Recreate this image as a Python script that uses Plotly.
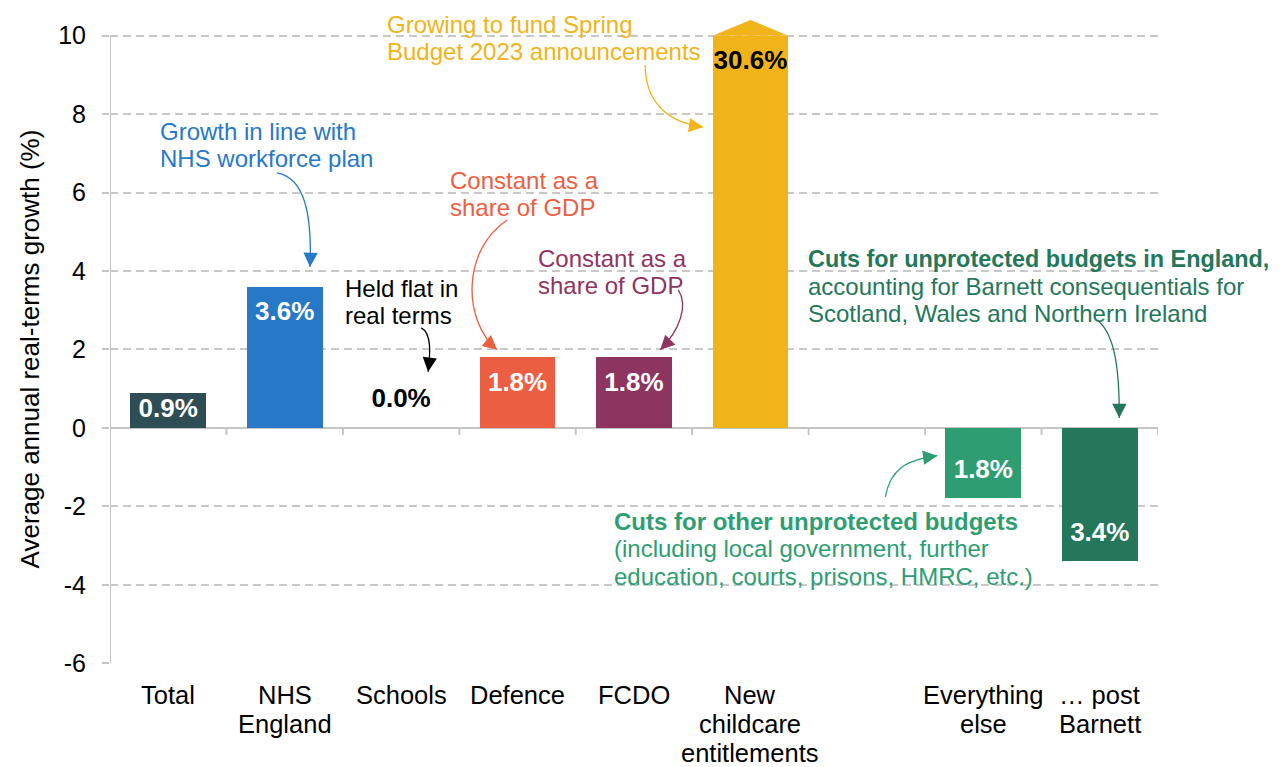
import plotly.graph_objects as go

categories = ["Total", "NHS<br>England", "Schools", "Defence", "FCDO",
              "New<br>childcare<br>entitlements", "", "Everything<br>else", "… post<br>Barnett"]
growth = [0.9, 3.6, 0.0, 1.8, 1.8, 30.6, None, -1.8, -3.4]
bar_colours = ["#2E4D55", "#2878C8", "#2878C8", "#EB5E42", "#8E3461",
               "#F0B41A", "#FFFFFF", "#2E9E72", "#24775A"]
label_colours = ["white", "white", "black", "white", "white", "black", "white", "white", "white"]
y_ticks = [-6, -4, -2, 0, 2, 4, 6, 8, 10]
y_cap = 10

FONT = "Arial, Liberation Sans, sans-serif"
W, H = 1286, 767
ML, MR, MT, MB = 110, 128, 18, 103
Y_RANGE = [-6.02, 10.45]
BAR_W = 0.65

sx = (W - ML - MR) / len(categories)            # px per category
sy = (H - MT - MB) / (Y_RANGE[1] - Y_RANGE[0])  # px per percentage point


def paper_y(v):
    return (v - Y_RANGE[0]) / (Y_RANGE[1] - Y_RANGE[0])


xs = list(range(len(categories)))
plotted = [None if v is None else min(v, y_cap) for v in growth]
labels = ["" if v is None else f"{abs(v):.1f}%" for v in growth]

# labels sit ~27px in from the end of the bar (centred on short bars, above a zero bar)
inset = 27 / sy
label_y = []
for v in plotted:
    if v is None:
        label_y.append(None)
    elif v == 0:
        label_y.append(inset)
    else:
        s = 1 if v > 0 else -1
        label_y.append(v - s * min(inset, abs(v) / 2))

fig = go.Figure()
fig.add_trace(go.Bar(
    x=xs, y=plotted, width=BAR_W,
    marker=dict(color=bar_colours, line=dict(width=0)),
    hoverinfo="skip",
))
fig.add_trace(go.Scatter(
    x=xs, y=label_y, mode="text", text=labels,
    textfont=dict(family=FONT, size=26, color=label_colours, weight="bold"),
    cliponaxis=False, hoverinfo="skip",
))

shapes = []
annotations = []

# arrow tip above the clipped childcare bar
i = 5
shapes.append(dict(type="path", xref="x", yref="y", line=dict(width=0), fillcolor=bar_colours[i],
                   path=f"M {i - BAR_W / 2},{y_cap} L {i},{y_cap + 0.4} L {i + BAR_W / 2},{y_cap} Z"))

# y axis line and category ticks on the zero line
shapes.append(dict(type="line", xref="x", yref="y", x0=-0.5, x1=-0.5, y0=-6, y1=10,
                   line=dict(color="#C4C4C4", width=2)))
for k in range(1, len(categories) + 1):
    shapes.append(dict(type="line", xref="x", yref="y", x0=k - 0.5, x1=k - 0.5, y0=0, y1=-7 / sy,
                       line=dict(color="#C4C4C4", width=2)))

# category labels (drawn as text so the line spacing can match)
cat_step = 29 / sy
for x, cat in zip(xs, categories):
    for j, line in enumerate(cat.split("<br>")):
        if line:
            annotations.append(dict(text=line, x=x, y=paper_y(-6.82 - j * cat_step),
                                    xref="x", yref="paper",
                                    xanchor="center", yanchor="middle", showarrow=False,
                                    font=dict(family=FONT, size=25.5, color="black")))

# y title
annotations.append(dict(text="Average annual real-terms growth (%)", textangle=-90,
                        x=-80 / (W - ML - MR), y=paper_y(2), xref="paper", yref="paper",
                        showarrow=False, xanchor="center", yanchor="middle",
                        font=dict(family=FONT, size=26, color="black")))

notes = [
    (["Growing to fund Spring", "Budget 2023 announcements"], "#F0B41A", 1.876, 10.29,
     [(4.096, 9.25), (4.096, 8.36), (4.268, 7.80), (4.594, 7.67)]),
    (["Growth in line with", "NHS workforce plan"], "#2878C8", -0.071, 7.567,
     [(0.935, 6.50), (1.175, 6.37), (1.235, 5.43), (1.218, 4.10)]),
    (["Held flat in", "real terms"], "#000000", 1.518, 3.554,
     [(2.172, 2.55), (2.266, 2.42), (2.249, 1.86), (2.232, 1.43)]),
    (["Constant as a", "share of GDP"], "#EB5E42", 2.420, 6.318,
     [(2.911, 5.30), (2.524, 4.54), (2.524, 2.75), (2.825, 1.99)]),
    (["Constant as a", "share of GDP"], "#8E3461", 3.176, 4.331,
     [(4.380, 3.52), (4.466, 3.13), (4.397, 2.50), (4.225, 1.99)]),
    (["<b>Cuts for unprotected budgets in England,</b>",
      "accounting for Barnett consequentials for",
      "Scotland, Wales and Northern Ireland"], "#24775A", 5.494, 4.318,
     [(7.979, 2.75), (8.134, 2.37), (8.168, 1.48), (8.168, 0.25)]),
    (["<b>Cuts for other unprotected budgets</b>",
      "(including local government, further",
      "education, courts, prisons, HMRC, etc.)"], "#2E9E72", 3.828, -2.382,
     [(6.158, -1.76), (6.201, -1.07), (6.330, -0.82), (6.605, -0.71)]),
]

note_step = 27.5 / sy
for lines, col, tx, ty, pts in notes:
    for j, line in enumerate(lines):
        size = 23.4 if "England," in line else 24
        annotations.append(dict(text=line, x=tx, y=ty - j * note_step, xref="x", yref="y",
                                xanchor="left", yanchor="middle", align="left", showarrow=False,
                                xshift=-2, font=dict(family=FONT, size=size, color=col)))
    (x0, y0), (x1, y1), (x2, y2), (x3, y3) = pts
    shapes.append(dict(type="path", xref="x", yref="y", line=dict(color=col, width=1.3),
                       path=f"M {x0},{y0} C {x1},{y1} {x2},{y2} {x3},{y3}"))
    dx, dy = (x2 - x3) * sx, -(y2 - y3) * sy
    n = (dx * dx + dy * dy) ** 0.5
    annotations.append(dict(x=x3, y=y3, xref="x", yref="y", text="", showarrow=True,
                            ax=dx / n * 12, ay=dy / n * 12, arrowhead=2, arrowsize=2.2,
                            arrowwidth=1.3, arrowcolor=col, standoff=0))

fig.update_layout(
    width=W, height=H,
    margin=dict(l=ML, r=MR, t=MT, b=MB),
    plot_bgcolor="white", paper_bgcolor="white",
    showlegend=False, bargap=0,
    font=dict(family=FONT, size=25, color="black"),
    shapes=shapes, annotations=annotations,
    xaxis=dict(range=[-0.5, len(categories) - 0.5], showticklabels=False,
               showgrid=False, zeroline=False, showline=False, ticks="", automargin=False),
    yaxis=dict(range=Y_RANGE, tickvals=y_ticks, ticktext=[str(t) for t in y_ticks],
               showgrid=True, gridcolor="#C8C8C8", gridwidth=1.5, griddash="8px,5px",
               zeroline=True, zerolinecolor="#C4C4C4", zerolinewidth=2, showline=False,
               ticks="outside", ticklen=7, tickcolor="#C4C4C4", tickwidth=1.5,
               ticklabelstandoff=11, tickfont=dict(size=25), automargin=False),
)

# drop the default 8px page margin so the figure fills the window exactly
fig.write_html("out.html", config={"displayModeBar": False},
               post_script="document.body.style.margin='0';document.body.style.overflow='hidden';")
